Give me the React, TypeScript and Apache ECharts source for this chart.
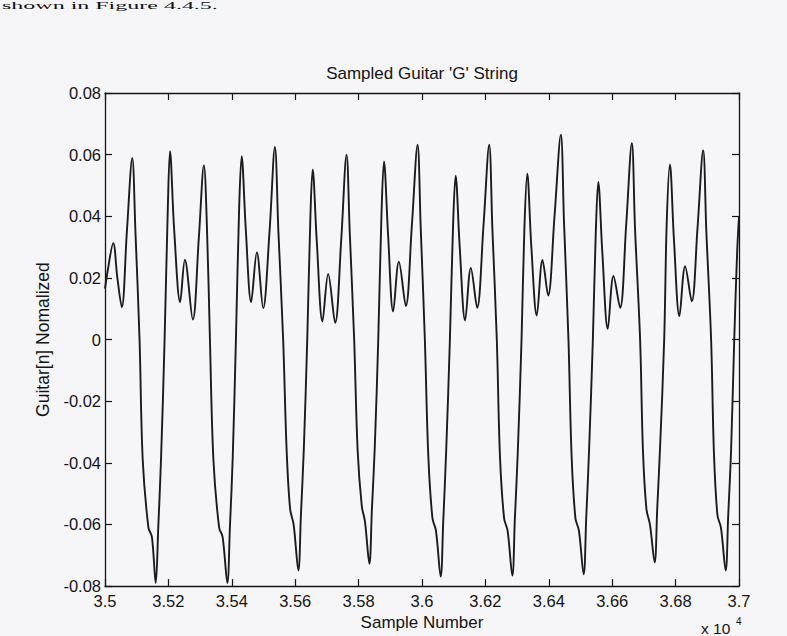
import React, { useEffect, useRef } from 'react';
import * as echarts from 'echarts';

const chartTitle = "Sampled Guitar 'G' String";
const xAxisName = 'Sample Number';
const yAxisName = 'Guitar[n] Nomalized';
const pageTextAbove = 'shown in Figure 4.4.5.';

// [sample number, normalized amplitude], one cycle at a time
const leadIn: [number, number][] = [
  [35000, 0.0165], [35008, 0.022], [35026, 0.0313], [35039, 0.02], [35053, 0.0105], [35069, 0.035],
  [35086, 0.0589], [35096, 0.035], [35109, 0.0], [35119, -0.039], [35137, -0.061], [35148, -0.064],
  [35160, -0.079],
];
const cycle1: [number, number][] = [
  [35168, -0.061], [35177, -0.038], [35188, 0.0], [35198, 0.042], [35205, 0.0611], [35218, 0.036],
  [35237, 0.0122], [35252, 0.0259], [35277, 0.0065], [35296, 0.033], [35312, 0.0565], [35322, 0.035],
  [35331, 0.0], [35342, -0.039], [35360, -0.061], [35371, -0.064], [35386, -0.079],
];
const cycle2: [number, number][] = [
  [35394, -0.061], [35403, -0.038], [35413, 0.0], [35423, 0.042], [35431, 0.0595], [35444, 0.036],
  [35461, 0.0122], [35479, 0.0283], [35499, 0.0102], [35519, 0.035], [35536, 0.0625], [35547, 0.035],
  [35562, 0.0], [35573, -0.036], [35584, -0.055], [35595, -0.06], [35610, -0.0749],
];
const cycle3: [number, number][] = [
  [35618, -0.057], [35627, -0.036], [35638, 0.0], [35648, 0.04], [35655, 0.0552], [35668, 0.032],
  [35686, 0.0059], [35704, 0.0213], [35726, 0.0054], [35745, 0.032], [35762, 0.06], [35772, 0.035],
  [35786, 0.0], [35797, -0.036], [35810, -0.054], [35820, -0.059], [35834, -0.0728],
];
const cycle4: [number, number][] = [
  [35842, -0.055], [35851, -0.035], [35862, 0.0], [35872, 0.04], [35880, 0.0578], [35893, 0.034],
  [35909, 0.0091], [35927, 0.0253], [35949, 0.0109], [35968, 0.037], [35986, 0.0632], [35996, 0.036],
  [36009, 0.0], [36020, -0.038], [36033, -0.058], [36044, -0.062], [36059, -0.0769],
];
const cycle5: [number, number][] = [
  [36067, -0.059], [36076, -0.037], [36088, 0.0], [36098, 0.037], [36106, 0.0532], [36119, 0.03],
  [36136, 0.0062], [36154, 0.0232], [36174, 0.0103], [36194, 0.037], [36212, 0.0632], [36222, 0.036],
  [36236, 0.0], [36246, -0.038], [36259, -0.058], [36270, -0.062], [36285, -0.0766],
];
const cycle6: [number, number][] = [
  [36293, -0.058], [36302, -0.037], [36314, 0.0], [36323, 0.036], [36332, 0.0538], [36345, 0.03],
  [36362, 0.0078], [36380, 0.0258], [36398, 0.0143], [36418, 0.04], [36438, 0.0665], [36448, 0.038],
  [36462, 0.0], [36472, -0.038], [36484, -0.058], [36495, -0.062], [36510, -0.0762],
];
const cycle7: [number, number][] = [
  [36518, -0.058], [36527, -0.036], [36539, 0.0], [36548, 0.034], [36556, 0.0511], [36569, 0.028],
  [36586, 0.0035], [36604, 0.0206], [36625, 0.0103], [36644, 0.037], [36662, 0.0638], [36672, 0.036],
  [36688, 0.0], [36697, -0.036], [36708, -0.055], [36719, -0.06], [36734, -0.0723],
];
const cycle8: [number, number][] = [
  [36742, -0.055], [36751, -0.035], [36764, 0.0], [36772, 0.038], [36782, 0.0568], [36795, 0.032],
  [36812, 0.0076], [36830, 0.0238], [36851, 0.0124], [36869, 0.036], [36887, 0.0614], [36897, 0.035],
  [36912, 0.0], [36921, -0.037], [36932, -0.057], [36943, -0.061], [36958, -0.0749],
];
const tailOut: [number, number][] = [
  [36966, -0.057], [36975, -0.036], [36985, 0.0], [36994, 0.028], [37000, 0.04],
];

const xMin = 35000;
const xMax = 37000;
const xStep = 200;
const yMin = -0.08;
const yMax = 0.08;
const yStep = 0.02;

const FONT = '"Liberation Sans", Arial, Helvetica, sans-serif';
const INK = '#141414';

export default function App() {
  const ref = useRef<HTMLDivElement>(null);

  useEffect(() => {
    document.body.style.margin = '0';
    const chart = echarts.init(ref.current!, null, { renderer: 'svg' });
    const data = [
      ...leadIn, ...cycle1, ...cycle2, ...cycle3, ...cycle4,
      ...cycle5, ...cycle6, ...cycle7, ...cycle8, ...tailOut,
    ];
    const axisCommon = {
      axisLine: { show: true, onZero: false, lineStyle: { color: INK, width: 1.3 } },
      axisTick: { show: true, inside: true, length: 7, lineStyle: { color: INK, width: 1.2 } },
      splitLine: { show: false },
    };
    chart.setOption({
      animation: false,
      backgroundColor: '#f6f6f8',
      grid: { left: 105, right: 48, top: 93, bottom: 47, containLabel: false },
      xAxis: [
        {
          type: 'value', min: xMin, max: xMax, interval: xStep, position: 'bottom',
          ...axisCommon,
          axisLabel: {
            show: true, margin: 6, color: INK, fontFamily: FONT, fontSize: 16.5,
            formatter: (v: number) => String(Number((v / 10000).toFixed(2))),
          },
          name: xAxisName, nameLocation: 'middle', nameGap: 22,
          nameTextStyle: { color: INK, fontFamily: FONT, fontSize: 17 },
        },
        {
          type: 'value', min: xMin, max: xMax, interval: xStep, position: 'top',
          ...axisCommon,
          axisLabel: { show: false },
        },
      ],
      yAxis: [
        {
          type: 'value', min: yMin, max: yMax, interval: yStep, position: 'left',
          ...axisCommon,
          axisLabel: {
            show: true, margin: 4, color: INK, fontFamily: FONT, fontSize: 16.5,
            formatter: (v: number) => (Math.abs(v) < 1e-9 ? '0' : v.toFixed(2)),
          },
          name: yAxisName, nameLocation: 'middle', nameGap: 41, nameRotate: 90,
          nameTextStyle: { color: INK, fontFamily: FONT, fontSize: 17.5 },
        },
        {
          type: 'value', min: yMin, max: yMax, interval: yStep, position: 'right',
          ...axisCommon,
          axisLabel: { show: false },
        },
      ],
      graphic: [
        {
          type: 'text', x: 422, y: 73,
          style: {
            text: chartTitle, fill: INK, font: `17px ${FONT}`,
            textAlign: 'center', textVerticalAlign: 'middle',
          },
        },
        {
          type: 'text', x: 701, y: 628,
          style: { text: 'x 10', fill: INK, font: `15.5px ${FONT}`, textAlign: 'left', textVerticalAlign: 'middle' },
        },
        {
          type: 'text', x: 736, y: 621,
          style: { text: '4', fill: INK, font: `10px ${FONT}`, textAlign: 'left', textVerticalAlign: 'middle' },
        },
        {
          type: 'text', x: 2, y: 1, scaleX: 1, scaleY: 0.4,
          style: {
            text: pageTextAbove, fill: '#111', font: '24px "Liberation Serif", "Times New Roman", serif',
            textAlign: 'left', textVerticalAlign: 'top',
          },
        },
      ],
      series: [
        {
          type: 'line',
          xAxisIndex: 0,
          yAxisIndex: 0,
          data,
          smooth: 0.35,
          showSymbol: false,
          clip: true,
          lineStyle: { color: '#1b1b1b', width: 1.9 },
        },
      ],
    });
    return () => chart.dispose();
  }, []);

  return <div ref={ref} style={{ width: 787, height: 636 }} />;
}
